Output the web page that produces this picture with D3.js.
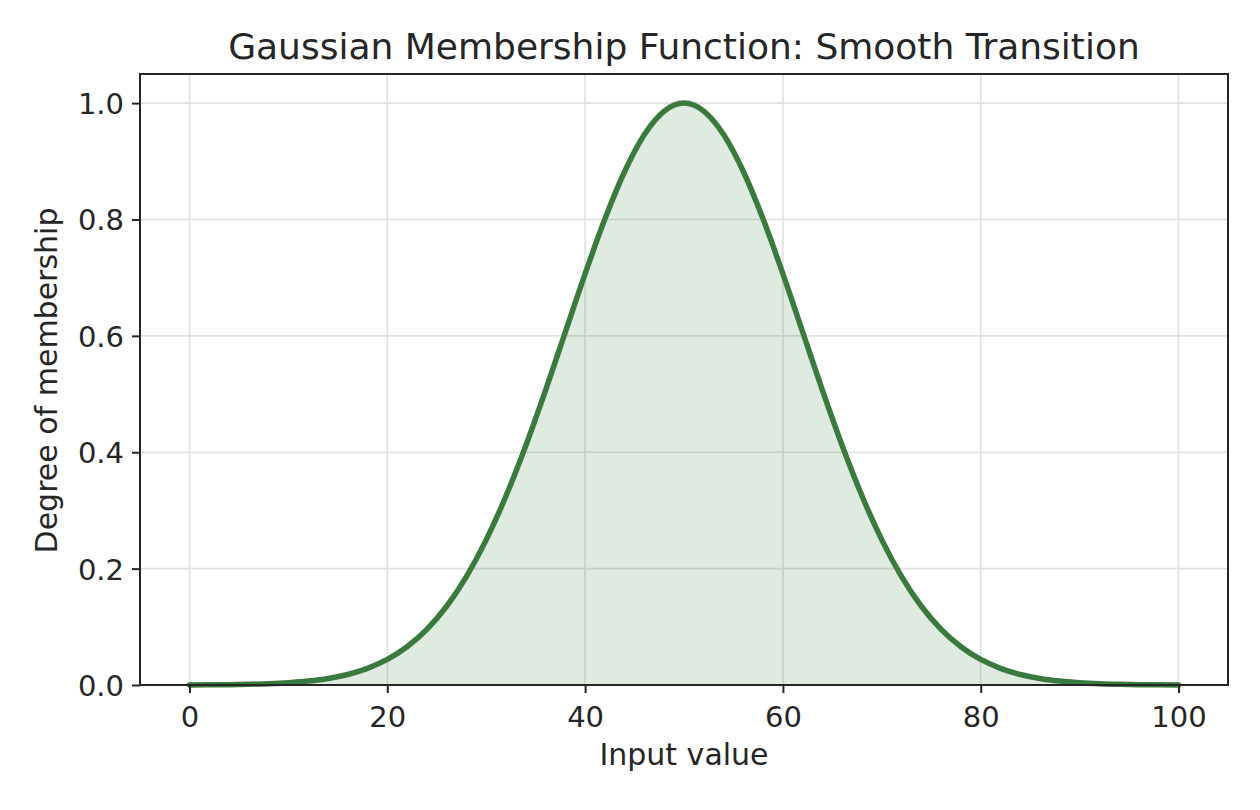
<!DOCTYPE html>
<html>
<head>
<meta charset="utf-8">
<script src="https://cdn.jsdelivr.net/npm/d3@7"></script>
<style>
  body { margin: 0; background: #fff; }
  text { font-family: "DejaVu Sans", sans-serif; fill: #262626; }
</style>
</head>
<body>
<div id="chart"></div>
<script>
const inputValues = d3.range(0, 101, 2);
const membership = [
  0.0002, 0.0003, 0.0006, 0.0012, 0.0022, 0.0039, 0.0067, 0.0111, 0.0181, 0.0286,
  0.0439, 0.0657, 0.0956, 0.1353, 0.1863, 0.2494, 0.3247, 0.4111, 0.5063, 0.6065,
  0.7066, 0.8007, 0.8825, 0.9460, 0.9862, 1.0000, 0.9862, 0.9460, 0.8825, 0.8007,
  0.7066, 0.6065, 0.5063, 0.4111, 0.3247, 0.2494, 0.1863, 0.1353, 0.0956, 0.0657,
  0.0439, 0.0286, 0.0181, 0.0111, 0.0067, 0.0039, 0.0022, 0.0012, 0.0006, 0.0003,
  0.0002
];
const xTicks = [0, 20, 40, 60, 80, 100];
const yTicks = [0, 0.2, 0.4, 0.6, 0.8, 1.0];

const data = inputValues.map((x, i) => ({ x: x, y: membership[i] }));

const width = 1260, height = 810;
const margin = { top: 74, right: 32, bottom: 125, left: 140 };
const innerW = width - margin.left - margin.right;
const innerH = height - margin.top - margin.bottom;

const svg = d3.select("#chart").append("svg")
  .attr("width", width)
  .attr("height", height);

const x = d3.scaleLinear().domain([-5, 105]).range([margin.left, margin.left + innerW]);
const y = d3.scaleLinear().domain([0, 1.05]).range([margin.top + innerH, margin.top]);

// grid
svg.append("g")
  .selectAll("line.vgrid")
  .data(xTicks)
  .enter()
  .append("line")
  .attr("x1", (d) => x(d)).attr("x2", (d) => x(d))
  .attr("y1", margin.top).attr("y2", margin.top + innerH)
  .attr("stroke", "#e0e0e0").attr("stroke-width", 1.6);

svg.append("g")
  .selectAll("line.hgrid")
  .data(yTicks)
  .enter()
  .append("line")
  .attr("x1", margin.left).attr("x2", margin.left + innerW)
  .attr("y1", (d) => y(d)).attr("y2", (d) => y(d))
  .attr("stroke", "#e0e0e0").attr("stroke-width", 1.6);

// filled area and line
const area = d3.area()
  .x((d) => x(d.x))
  .y0(y(0))
  .y1((d) => y(d.y))
  .curve(d3.curveMonotoneX);

const line = d3.line()
  .x((d) => x(d.x))
  .y((d) => y(d.y))
  .curve(d3.curveMonotoneX);

svg.append("path")
  .datum(data)
  .attr("d", area)
  .attr("fill", "#3b7a3f")
  .attr("fill-opacity", 0.16);

svg.append("path")
  .datum(data)
  .attr("d", line)
  .attr("fill", "none")
  .attr("stroke", "#3b7a3f")
  .attr("stroke-width", 5.5)
  .attr("stroke-linecap", "round");

// axes
const xAxis = svg.append("g")
  .attr("transform", `translate(0, ${margin.top + innerH})`)
  .call(d3.axisBottom(x).tickValues(xTicks).tickSize(8).tickPadding(8).tickFormat(d3.format("d")));

const yAxis = svg.append("g")
  .attr("transform", `translate(${margin.left}, 0)`)
  .call(d3.axisLeft(y).tickValues(yTicks).tickSize(8).tickPadding(8).tickFormat(d3.format(".1f")));

[xAxis, yAxis].forEach((ax) => {
  ax.select(".domain").remove();
  ax.selectAll(".tick line").attr("stroke", "#262626").attr("stroke-width", 2);
  ax.selectAll(".tick text")
    .attr("font-size", "29px")
    .attr("font-family", "DejaVu Sans, sans-serif")
    .attr("fill", "#333");
});
xAxis.selectAll(".tick text").attr("dy", "0.9em");
yAxis.selectAll(".tick text").attr("dy", "0.36em");

// frame
svg.append("rect")
  .attr("x", margin.left).attr("y", margin.top)
  .attr("width", innerW).attr("height", innerH)
  .attr("fill", "none")
  .attr("stroke", "#262626")
  .attr("stroke-width", 2);

// title and labels
svg.append("text")
  .attr("x", margin.left + innerW / 2)
  .attr("y", 59)
  .attr("text-anchor", "middle")
  .attr("font-size", "36px")
  .text("Gaussian Membership Function: Smooth Transition");

svg.append("text")
  .attr("x", margin.left + innerW / 2)
  .attr("y", 765)
  .attr("text-anchor", "middle")
  .attr("font-size", "30px")
  .attr("fill", "#333")
  .text("Input value");

svg.append("text")
  .attr("transform", `translate(57, ${margin.top + innerH / 2 + 1}) rotate(-90)`)
  .attr("text-anchor", "middle")
  .attr("font-size", "30px")
  .attr("fill", "#333")
  .text("Degree of membership");
</script>
</body>
</html>
